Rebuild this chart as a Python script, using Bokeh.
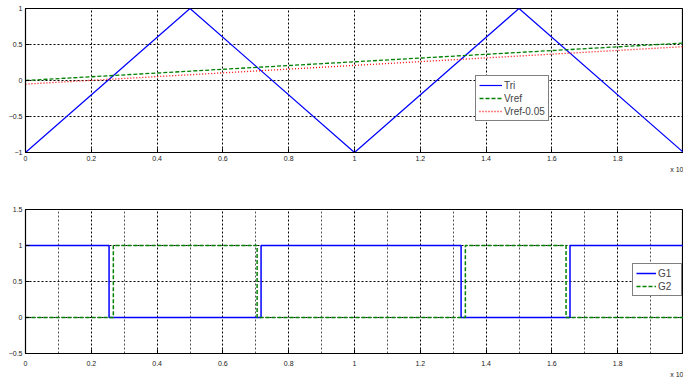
from bokeh.plotting import figure
from bokeh.layouts import column
from bokeh.models import FixedTicker, Legend, LegendItem, Title, Range1d
from bokeh.embed import file_html
from bokeh.resources import INLINE

# ---- data ----
tri_t = [0.0, 0.5, 1.0, 1.5, 2.0]
tri_v = [-1.0, 1.0, -1.0, 1.0, -1.0]
vref_t = [0.0, 2.0]
vref_v = [0.0, 0.52]
vref2_v = [-0.05, 0.47]

g1_edges = [0.0, 0.254, 0.716, 1.324, 1.655, 2.0]
g1_vals = [1, 0, 1, 0, 1, 1]
g2_edges = [0.0, 0.267, 0.704, 1.337, 1.643, 2.0]
g2_vals = [0, 1, 0, 1, 0, 0]

x_ticks = [0, 0.2, 0.4, 0.6, 0.8, 1.0, 1.2, 1.4, 1.6, 1.8]
x_minor = [0.1, 0.3, 0.5, 0.7, 0.9, 1.1, 1.3, 1.5, 1.7, 1.9]
top_y_ticks = [-1, -0.5, 0, 0.5, 1]
bot_y_ticks = [-0.5, 0, 0.5, 1, 1.5]
exp_label = "x 10"

FONT = "Liberation Sans"


def style(p, yticks, minor):
    p.outline_line_color = "black"
    p.outline_line_width = 1.2
    p.xaxis.ticker = FixedTicker(ticks=x_ticks, minor_ticks=x_minor if minor else [])
    p.yaxis.ticker = FixedTicker(ticks=yticks)
    p.xaxis.major_label_overrides = {t: ("%g" % t) for t in x_ticks}
    for ax in (p.xaxis[0], p.yaxis[0]):
        ax.axis_line_color = "black"
        ax.major_tick_in = 4
        ax.major_tick_out = 0
        ax.minor_tick_line_color = None
        ax.major_label_text_font = FONT
        ax.major_label_text_font_size = "7px"
        ax.major_label_text_color = "#222222"
        ax.major_label_standoff = 3
    for g in (p.xgrid[0], p.ygrid[0]):
        g.grid_line_color = "black"
        g.grid_line_dash = "2 2"
        g.grid_line_width = 1
    if minor:
        p.xgrid[0].minor_grid_line_color = "#555555"
        p.xgrid[0].minor_grid_line_dash = "2 2"
        p.xgrid[0].minor_grid_line_width = 1
    p.background_fill_color = "white"
    p.border_fill_color = "white"
    p.add_layout(Title(text=exp_label, align="right", text_font=FONT, text_font_size="7px",
                       text_color="#222222", text_font_style="normal", standoff=0), "below")


# ---- top plot ----
p1 = figure(width=683, height=198, output_backend="svg", toolbar_location=None,
            x_range=Range1d(0, 2), y_range=Range1d(-1, 1),
            min_border_left=25, min_border_right=0, min_border_top=8, min_border_bottom=46)
style(p1, top_y_ticks, False)
r_tri = p1.line(tri_t, tri_v, line_color="#0000ff", line_width=1.2)
r_vref = p1.line(vref_t, vref_v, line_color="#008000", line_width=1.3, line_dash="4 2")
r_vref2 = p1.line(vref_t, vref2_v, line_color="#ff0000", line_width=1.3, line_dash="1 2")
leg1 = Legend(items=[LegendItem(label="Tri", renderers=[r_tri]),
                     LegendItem(label="Vref", renderers=[r_vref]),
                     LegendItem(label="Vref-0.05", renderers=[r_vref2])],
              location=(450, 31), border_line_color="black", border_line_width=1,
              label_text_font=FONT, label_text_font_size="10px",
              glyph_width=23, glyph_height=12, label_height=12, spacing=1,
              padding=3, margin=0, label_standoff=2, background_fill_alpha=1)
p1.add_layout(leg1, "center")

# ---- bottom plot ----
p2 = figure(width=683, height=179, output_backend="svg", toolbar_location=None,
            x_range=Range1d(0, 2), y_range=Range1d(-0.5, 1.5),
            min_border_left=25, min_border_right=0, min_border_top=11, min_border_bottom=24)
style(p2, bot_y_ticks, True)
r_g1 = p2.step(g1_edges, g1_vals, mode="after", line_color="#0000ff", line_width=1.5)
r_g2 = p2.step(g2_edges, g2_vals, mode="after", line_color="#008000", line_width=1.5, line_dash="4 2")
leg2 = Legend(items=[LegendItem(label="G1", renderers=[r_g1]),
                     LegendItem(label="G2", renderers=[r_g2])],
              location=(607, 57), border_line_color="black", border_line_width=1,
              label_text_font=FONT, label_text_font_size="10px",
              glyph_width=20, glyph_height=12, label_height=12, spacing=1,
              padding=3, margin=0, label_standoff=2, background_fill_alpha=1)
p2.add_layout(leg2, "center")

layout = column(p1, p2, spacing=0)
open("out.html", "w").write(file_html(layout, INLINE))
